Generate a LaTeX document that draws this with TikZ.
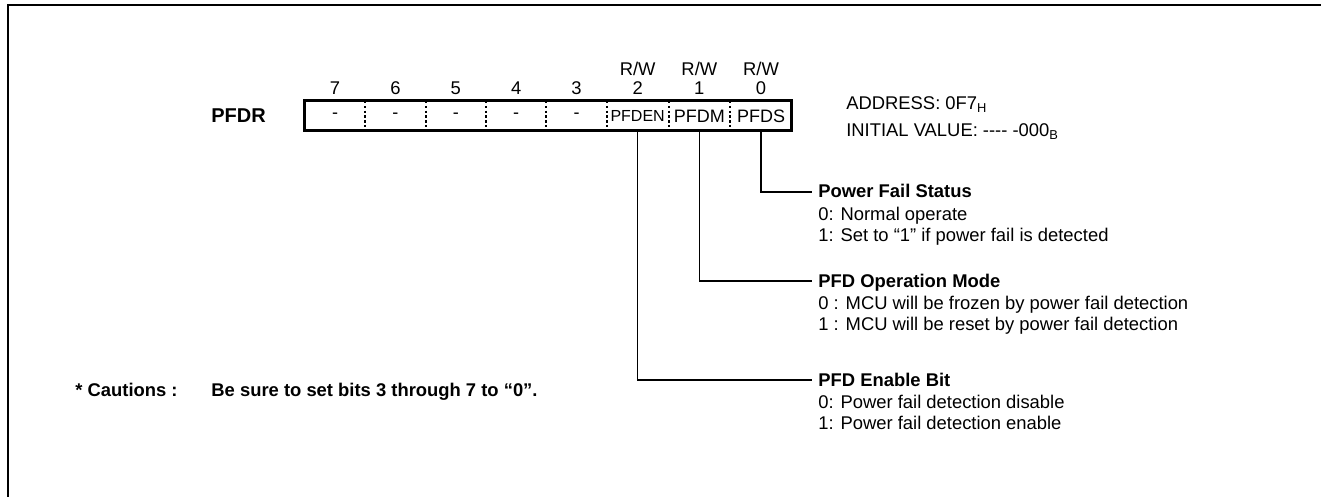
\documentclass[tikz,border=0pt]{standalone}
\usepackage{fontspec}
\setmainfont{Liberation Sans}
\usetikzlibrary{positioning}
\begin{document}
\begin{tikzpicture}[x=0.5pt, y=-0.5pt, node distance=0pt]
        \tikzset{cell/.style={minimum width=30.2pt, minimum height=15pt, inner sep=0pt, outer sep=0pt, font=\fontsize{9}{10.5}\selectfont}, widecell/.style={cell, minimum width=30.85pt}, bitnum/.style={inner sep=2pt, font=\fontsize{9.2}{10.5}\selectfont}, head/.style={inner xsep=3pt, inner ysep=1pt, text height=8pt, text depth=2pt, font=\bfseries\fontsize{9.2}{10.5}\selectfont}, body/.style={align=left, inner xsep=3pt, inner ysep=1pt, font=\fontsize{9.2}{10.5}\selectfont}, wire/.style={line width=0.65pt}, divider/.style={line width=1pt, dash pattern=on 1.2pt off 1.2pt}}
        \useasboundingbox (0,0) rectangle (1321,497);
        \draw[line width=1.3pt] (1340,5) -- (8,5) -- (8,520);
        \node[cell] (b7) at (335,116) {-};
        \node[cell, right=of b7] (b6) {-};
        \node[cell, right=of b6] (b5) {-};
        \node[cell, right=of b5] (b4) {-};
        \node[cell, right=of b4] (b3) {-};
        \node[widecell, right=of b3] (b2) {\fontsize{8}{9}\selectfont PFDEN};
        \node[widecell, right=of b2] (b1) {PFDM};
        \node[widecell, right=of b1] (b0) {PFDS};
        \draw[line width=1.5pt] (b7.north west) rectangle (b0.south east);
        \draw[divider] (b7.north east) -- (b7.south east);
        \draw[divider] (b6.north east) -- (b6.south east);
        \draw[divider] (b5.north east) -- (b5.south east);
        \draw[divider] (b4.north east) -- (b4.south east);
        \draw[divider] (b3.north east) -- (b3.south east);
        \draw[divider] (b2.north east) -- (b2.south east);
        \draw[divider] (b1.north east) -- (b1.south east);
        \node[bitnum, above=1pt of b7] (n7) {7};
        \node[bitnum, above=1pt of b6] (n6) {6};
        \node[bitnum, above=1pt of b5] (n5) {5};
        \node[bitnum, above=1pt of b4] (n4) {4};
        \node[bitnum, above=1pt of b3] (n3) {3};
        \node[bitnum, above=1pt of b2] (n2) {2};
        \node[bitnum, above=1pt of b1] (n1) {1};
        \node[bitnum, above=1pt of b0] (n0) {0};
        \node[bitnum, above=-1.5pt of n2] (rw2) {R/W};
        \node[bitnum, above=-1.5pt of n1] (rw1) {R/W};
        \node[bitnum, above=-1.5pt of n0] (rw0) {R/W};
        \node[font=\bfseries\fontsize{10}{12}\selectfont, left=16pt of b7] (reg) {PFDR};
        \node[body, font=\fontsize{9.2}{13.5}\selectfont, right=24pt of b0, yshift=-1pt] (addr) {ADDRESS: 0F7\textsubscript{H}\\INITIAL VALUE: -\kern0pt-\kern0pt-\kern0pt- -000\textsubscript{B}};
        \node[head, anchor=west] (h0) at (812,192) {Power Fail Status};
        \node[body, below=0pt of h0.south west, anchor=north west] (t0) {0: Normal operate\\1: Set to “1” if power fail is detected};
        \node[head, anchor=west] (h1) at (812,281) {PFD Operation Mode};
        \node[body, below=0pt of h1.south west, anchor=north west] (t1) {0 : MCU will be frozen by power fail detection\\1 : MCU will be reset by power fail detection};
        \node[head, anchor=west] (h2) at (812,380) {PFD Enable Bit};
        \node[body, below=0pt of h2.south west, anchor=north west] (t2) {0: Power fail detection disable\\1: Power fail detection enable};
        \draw[wire] (b0.south) |- (h0.west);
        \draw[wire] (b1.south) |- (h1.west);
        \draw[wire] (b2.south) |- (h2.west);
        \node[head, anchor=west] (cau) at (69,390) {* Cautions :};
        \node[head, right=10.5pt of cau] (note) {Be sure to set bits 3 through 7 to “0”.};
    \end{tikzpicture}
\end{document}
